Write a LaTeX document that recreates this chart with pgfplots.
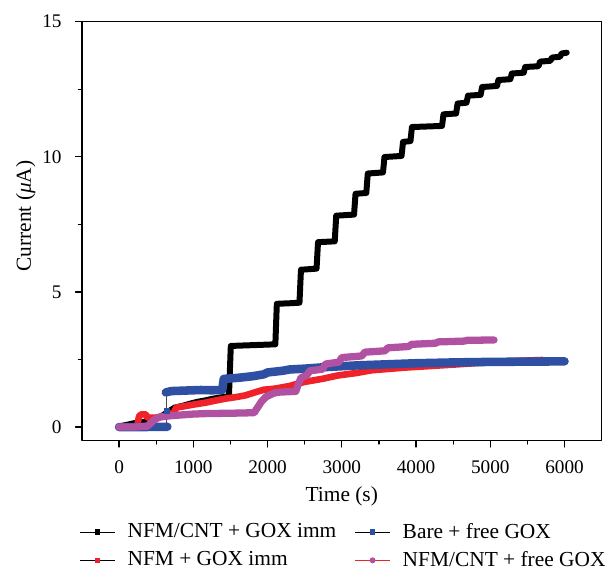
\documentclass[border=0pt]{standalone}
\usepackage{fontspec}
\setmainfont{Liberation Serif}
\usepackage{pgfplots}
\pgfplotsset{compat=1.18}

\definecolor{cblue}{HTML}{2E4FA2}
\definecolor{cred}{HTML}{EE2228}
\definecolor{cpurple}{HTML}{B151A1}

\begin{document}
\begin{tikzpicture}
\useasboundingbox (-38.3pt,-60pt) rectangle (245.4pt,205.9pt);
\begin{axis}[
  scale only axis, width=242.9pt, height=195.8pt,
  xmin=-500, xmax=6500, ymin=-0.5, ymax=15,
  xtick={0,1000,...,6000}, ytick={0,5,10,15},
  minor x tick num=1, minor y tick num=1,
  tick pos=left, tick align=outside,
  major tick length=3pt, minor tick length=1.6pt,
  axis line style={line width=0.6pt},
  every tick/.style={line width=0.6pt, black},
  tick label style={font=\fontsize{9}{10}\selectfont},
  /pgf/number format/assume math mode=true,
  /pgf/number format/1000 sep={},
  xticklabel shift=3pt, yticklabel shift=3pt,
  xlabel={Time (s)}, ylabel={Current (\textit{μ}A)},
  label style={font=\fontsize{10}{12}\selectfont},
  xlabel style={at={(axis description cs:0.5,-0.1344)}, anchor=center},
  ylabel style={at={(axis description cs:-0.108,0.536)}, anchor=center},
  legend columns=2, transpose legend, legend cell align=left,
  legend style={draw=none, fill=none,
    at={(axis description cs:-0.006,-0.196)}, anchor=north west,
    inner sep=0pt,
    nodes={inner sep=0pt, font=\fontsize{10}{12}\selectfont, text depth=0.15em},
    /tikz/every odd column/.append style={column sep=5.6pt},
    /tikz/every even column/.append style={column sep=8.4pt},
    row sep=4.6pt},
  line join=round, line cap=round,
]

% NFM/CNT + GOX imm
\addplot[black, line width=2.8pt,
  legend image code/.code={\draw[black,line width=0.6pt] (0pt,0pt)--(16.4pt,0pt);
    \path[fill=black, draw=none] (6.9pt,-1.3pt) rectangle (9.5pt,1.3pt);}]
coordinates {
(0,0.02) (100,0.08) (200,0.14) (300,0.18) (400,0.22) (500,0.3) (600,0.45)
(680,0.6) (750,0.72) (850,0.78) (950,0.86) (1050,0.93) (1150,0.98)
(1250,1.04) (1350,1.09) (1480,1.14)
(1505,3.0) (1700,3.02) (1900,3.04) (2105,3.06)
(2125,4.56) (2300,4.58) (2430,4.6)
(2450,5.82) (2660,5.86)
(2680,6.84) (2905,6.87)
(2925,7.82) (3165,7.86)
(3185,8.63) (3330,8.66)
(3350,9.38) (3555,9.42)
(3575,9.99) (3805,10.03)
(3825,10.55) (3925,10.58)
(3945,11.1) (4350,11.14)
(4370,11.57) (4540,11.6)
(4560,11.97) (4680,12.0)
(4700,12.26) (4870,12.29)
(4890,12.58) (5090,12.62)
(5110,12.84) (5270,12.87)
(5290,13.08) (5450,13.11)
(5470,13.32) (5650,13.35)
(5670,13.52) (5810,13.55)
(5830,13.67) (5940,13.7)
(5960,13.82) (6030,13.85)
};
\addlegendentry{NFM/CNT + GOX imm}

% NFM + GOX imm
\addplot[cred, line width=3.1pt,
  legend image code/.code={\draw[black,line width=0.6pt] (0pt,0pt)--(16.4pt,0pt);
    \path[fill=cred, draw=none] (6.9pt,-1.3pt) rectangle (9.5pt,1.3pt);}]
coordinates {
(0,0) (240,0.02) (270,0.4) (300,0.47) (360,0.47) (380,0.35) (500,0.35)
(650,0.42) (740,0.55) (770,0.72) (900,0.78) (1000,0.83) (1160,0.9)
(1300,0.98) (1430,1.05) (1600,1.12) (1700,1.17) (1850,1.3) (1950,1.38)
(2100,1.42) (2300,1.52) (2400,1.6) (2500,1.67) (2750,1.79) (2950,1.91)
(3200,2.0) (3400,2.1) (3850,2.2) (4500,2.31) (5000,2.4) (5400,2.45) (5700,2.48)
};
\addlegendentry{NFM + GOX imm}

% Bare + free GOX
\addplot[cblue, line width=4pt, forget plot]
coordinates {(0,0) (300,0) (650,0.01)};
\addplot[black!70, line width=0.4pt, forget plot, mark=square*,
  mark options={cblue, scale=0.6}, mark indices={2}]
coordinates {(640,0.1) (640,0.58) (640,1.25)};
\addplot[cblue, line width=4pt,
  legend image code/.code={\draw[black,line width=0.6pt] (0pt,0pt)--(16.4pt,0pt);
    \path[fill=cblue, draw=none] (6.9pt,-1.3pt) rectangle (9.5pt,1.3pt);}]
coordinates {
(630,1.28) (700,1.33) (900,1.35) (1100,1.37) (1250,1.36) (1390,1.37)
(1410,1.78) (1600,1.82) (1800,1.88) (1950,1.95) (2000,2.02) (2200,2.08)
(2300,2.13) (2500,2.16) (2800,2.22) (3200,2.28) (3600,2.32) (4000,2.36)
(4500,2.39) (5000,2.41) (5500,2.42) (6000,2.43)
};
\addlegendentry{Bare + free GOX}

% NFM/CNT + free GOX
\addplot[cpurple, line width=3.4pt,
  legend image code/.code={\draw[cred,line width=0.6pt] (0pt,0pt)--(16.4pt,0pt);
    \path[fill=cpurple, draw=none] (8.2pt,0pt) circle (1.4pt);}]
coordinates {
(0,0) (200,0.0) (380,0.03) (430,0.15) (480,0.28) (550,0.37) (700,0.42)
(850,0.45) (1000,0.48) (1200,0.5) (1500,0.51) (1820,0.53) (1860,0.7)
(1920,0.95) (1980,1.12) (2080,1.25) (2150,1.29) (2380,1.32) (2410,1.55)
(2450,1.82) (2530,1.92) (2570,2.08) (2740,2.14) (2780,2.33) (2960,2.4)
(3000,2.57) (3270,2.63) (3310,2.77) (3580,2.82) (3620,2.93) (3900,2.98)
(3940,3.06) (4260,3.1) (4300,3.15) (4650,3.18) (4690,3.21) (5050,3.22)
};
\addlegendentry{NFM/CNT + free GOX}

\end{axis}
\end{tikzpicture}
\end{document}
